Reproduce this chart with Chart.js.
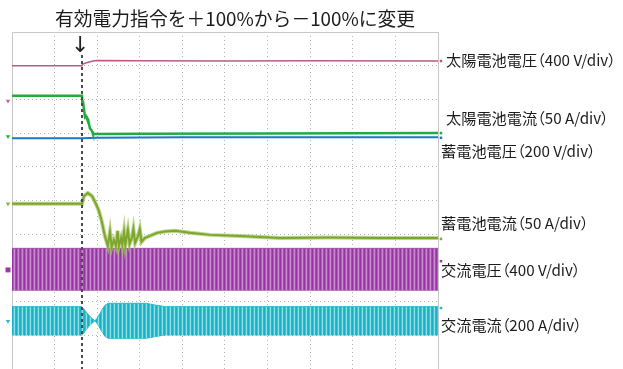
<!DOCTYPE html>
<html lang="ja">
<head>
<meta charset="utf-8">
<title>有効電力指令ステップ応答</title>
<script src="https://cdn.jsdelivr.net/npm/chart.js@4/dist/chart.umd.min.js"></script>
<style>
  html, body { margin: 0; padding: 0; background: #fff; }
  #wrap { position: relative; width: 623px; height: 369px; overflow: hidden; }
  #c { position: absolute; left: 0; top: 0; }
  .t { position: absolute; white-space: nowrap; color: #1c1c1c;
       font-family: "Noto Sans CJK JP", "Noto Sans", sans-serif; }
  .title { font-size: 18.8px; line-height: 26px; }
  .lab { font-size: 15.2px; line-height: 20px; font-feature-settings: "palt"; }
  .arrow { font-size: 22px; line-height: 22px; font-family: "DejaVu Sans", sans-serif; color: #222; }
</style>
</head>
<body>
<div id="wrap">
  <canvas id="c" width="623" height="369"></canvas>
  <div class="t title" style="left:55px; top:5px;">有効電力指令を＋100%から－100%に変更</div>
  <div class="t arrow" style="left:71px; top:34px;">↓</div>
  <div class="t lab" style="left:446px; top:49px;">太陽電池電圧（400 V/div）</div>
  <div class="t lab" style="left:446px; top:107px;">太陽電池電流（50 A/div）</div>
  <div class="t lab" style="left:441px; top:140px;">蓄電池電圧（200 V/div）</div>
  <div class="t lab" style="left:441px; top:212px;">蓄電池電流（50 A/div）</div>
  <div class="t lab" style="left:441px; top:259px;">交流電圧（400 V/div）</div>
  <div class="t lab" style="left:441px; top:314px;">交流電流（200 A/div）</div>
</div>
<script>
// Time axis in screen divisions (0..10), vertical axis in divisions (-5..5 from centre).
// Each trace: [time div, level div]
const solarVoltage = [[0, 4.0], [1.643, 4.0], [1.66, 4.05], [1.75, 4.09], [1.9, 4.14], [2.0, 4.155],
  [3, 4.15], [5, 4.14], [7, 4.145], [10, 4.14]];

const solarCurrent = [[0, 3.11], [1.643, 3.11], [1.65, 2.93], [1.667, 2.93], [1.714, 2.47], [1.74, 2.50],
  [1.76, 2.43], [1.784, 2.42], [1.831, 2.13], [1.86, 2.10], [1.88, 2.05], [1.901, 1.97],
  [3, 1.98], [6, 1.99], [10, 2.0]];

const batteryVoltage = [[0, 1.845], [1.643, 1.845], [2.0, 1.86], [4, 1.875], [10, 1.875]];

const batteryCurrent = [[0, -0.10], [1.643, -0.10], [1.69, 0.13], [1.78, 0.22], [1.88, 0.13],
  [1.97, -0.10], [2.04, -0.31], [2.11, -0.64], [2.18, -1.05], [2.25, -1.35],
  [2.30, -0.93], [2.34, -1.38], [2.39, -1.17], [2.44, -1.35], [2.48, -0.90], [2.51, -1.35],
  [2.56, -1.12], [2.59, -1.32], [2.63, -0.93], [2.66, -1.32], [2.72, -0.88], [2.76, -1.29],
  [2.82, -1.08], [2.85, -0.85], [2.89, -1.26], [2.96, -1.05], [3.00, -0.85], [3.04, -1.23],
  [3.12, -1.11], [3.24, -1.05], [3.40, -0.96], [3.59, -0.92], [3.83, -0.90], [4.18, -0.96],
  [4.65, -1.02], [5.35, -1.05], [6.29, -1.11], [7.46, -1.10], [8.64, -1.11], [10, -1.11]];

// AC traces are shown by their envelopes (upper / lower crest levels)
const acVoltageUpper = [[0, -1.42], [10, -1.42]];
const acVoltageLower = [[0, -2.66], [10, -2.66]];

const acCurrentUpper = [[0, -3.15], [1.643, -3.15], [1.72, -3.27], [1.80, -3.40], [1.88, -3.50],
  [1.95, -3.57], [2.02, -3.45], [2.10, -3.27], [2.18, -3.11], [2.26, -3.05], [3.15, -3.05],
  [3.35, -3.10], [3.6, -3.15], [10, -3.15]];
const acCurrentLower = [[0, -3.99], [1.643, -3.99], [1.72, -3.87], [1.80, -3.74], [1.88, -3.64],
  [1.95, -3.57], [2.02, -3.69], [2.10, -3.87], [2.18, -4.03], [2.26, -4.09], [3.15, -4.09],
  [3.35, -4.04], [3.6, -3.99], [10, -3.99]];

// Command step instant (dashed cursor)
const stepTime = 1.643;
const cursorSpan = [4.32, -5];

// Channel reference markers at the left edge and trace-end markers at the right edge
const groundMarkers = [2.95, 1.90, -0.10, -2.06, -3.58];
const groundColors = ['#c0648a', '#22ad3f', '#8aad3c', '#9a3aa6', '#2ab8cc'];
const endMarkers = [4.14, 2.0, 1.86, -1.14, -1.80, -3.19];
const endColors = ['#b85c82', '#1fae3e', '#1c78c8', '#86ab36', '#9a3aa6', '#22bccf'];

const gridX = [1, 2, 3, 4, 5, 6, 7, 8, 9];
const gridY = [4, 3, 2, 1, 0, -1, -2, -3, -4];

const xy = arr => arr.map(([x, y]) => ({ x, y }));

const canvas = document.getElementById('c');
const ctx = canvas.getContext('2d');

function stripes(colors) {
  const s = document.createElement('canvas');
  s.width = colors.length; s.height = 1;
  const g = s.getContext('2d');
  colors.forEach((c, i) => { g.fillStyle = c; g.fillRect(i, 0, 1, 1); });
  return ctx.createPattern(s, 'repeat');
}
const purpleFill = stripes(['#9636a2', '#b45cbb', '#c98ccf', '#a64aae']);
const cyanFill = stripes(['#16b2c6', '#3ac4d4', '#92dde6', '#22bacd']);

// Screen frame: grid is clipped to the graticule, then the border is stroked
function screenBox(chart) {
  const { scales: { x, y }, height } = chart;
  return {
    l: Math.round(x.getPixelForValue(0)), r: Math.round(x.getPixelForValue(10)),
    t: Math.round(y.getPixelForValue(5)), b: height
  };
}
const frame = {
  id: 'frame',
  beforeDraw(chart) {
    const { l, r, t, b } = screenBox(chart);
    chart.ctx.save();
    chart.ctx.beginPath();
    chart.ctx.rect(l + 1, t + 1, r - l - 1, b - t);
    chart.ctx.clip();
  },
  beforeDatasetsDraw(chart) {
    const c = chart.ctx;
    c.restore();
    const { l, r, t, b } = screenBox(chart);
    c.save();
    c.strokeStyle = '#c6c6c6';
    c.lineWidth = 1;
    c.beginPath();
    c.moveTo(l + 0.5, b); c.lineTo(l + 0.5, t + 0.5); c.lineTo(r + 0.5, t + 0.5); c.lineTo(r + 0.5, b);
    c.stroke();
    c.restore();
  }
};

const line = (data, color, width, extra = {}) => Object.assign({
  data: xy(data), borderColor: color, borderWidth: width, pointRadius: 0,
  tension: 0, fill: false
}, extra);

new Chart(canvas, {
  type: 'line',
  data: {
    datasets: [
      line([[stepTime, cursorSpan[0]], [stepTime, cursorSpan[1]]], '#4a4a4a', 2, { borderDash: [3, 3] }),
      {
        data: groundMarkers.map(v => ({ x: -0.094, y: v })), showLine: false,
        pointStyle: ['triangle', 'triangle', 'triangle', 'rect', 'triangle'],
        pointRotation: [180, 180, 180, 0, 180],
        pointRadius: [2.5, 2.5, 2.5, 3.5, 2.5],
        pointBackgroundColor: groundColors, pointBorderWidth: 0
      },
      {
        data: endMarkers.map(v => ({ x: 10.07, y: v })), showLine: false,
        pointStyle: 'rect', pointRadius: 1.8,
        pointBackgroundColor: endColors, pointBorderWidth: 0
      },
      line(solarVoltage, '#b85c82', 1.5),
      line(solarCurrent, '#1fae3e', 2.5),
      line(batteryVoltage, '#1c78c8', 2),
      line(batteryCurrent, '#7ea52e', 2),
      line(batteryCurrent, 'rgba(160,196,92,0.7)', 4),
      line(acVoltageUpper, '#a44cae', 1, { fill: '+1', backgroundColor: purpleFill }),
      line(acVoltageLower, '#a44cae', 1),
      line(acCurrentUpper, '#2abccf', 1, { fill: '+1', backgroundColor: cyanFill }),
      line(acCurrentLower, '#2abccf', 1)
    ]
  },
  options: {
    responsive: false,
    devicePixelRatio: 1,
    animation: false,
    events: [],
    layout: { padding: 0, autoPadding: false },
    plugins: { legend: { display: false }, tooltip: { enabled: false }, title: { display: false } },
    scales: {
      x: {
        type: 'linear', min: -0.2817, max: 14.343,
        afterBuildTicks: s => { s.ticks = gridX.map(value => ({ value })); },
        ticks: { display: false },
        grid: { drawTicks: false, color: '#b4b4b4', lineWidth: 1 },
        border: { display: false, dash: [1, 3] }
      },
      y: {
        type: 'linear', min: -5, max: 5.9496,
        afterBuildTicks: s => { s.ticks = gridY.map(value => ({ value })); },
        ticks: { display: false },
        grid: { drawTicks: false, color: '#b4b4b4', lineWidth: 1 },
        border: { display: false, dash: [1, 3] }
      }
    }
  },
  plugins: [frame]
});
</script>
</body>
</html>
